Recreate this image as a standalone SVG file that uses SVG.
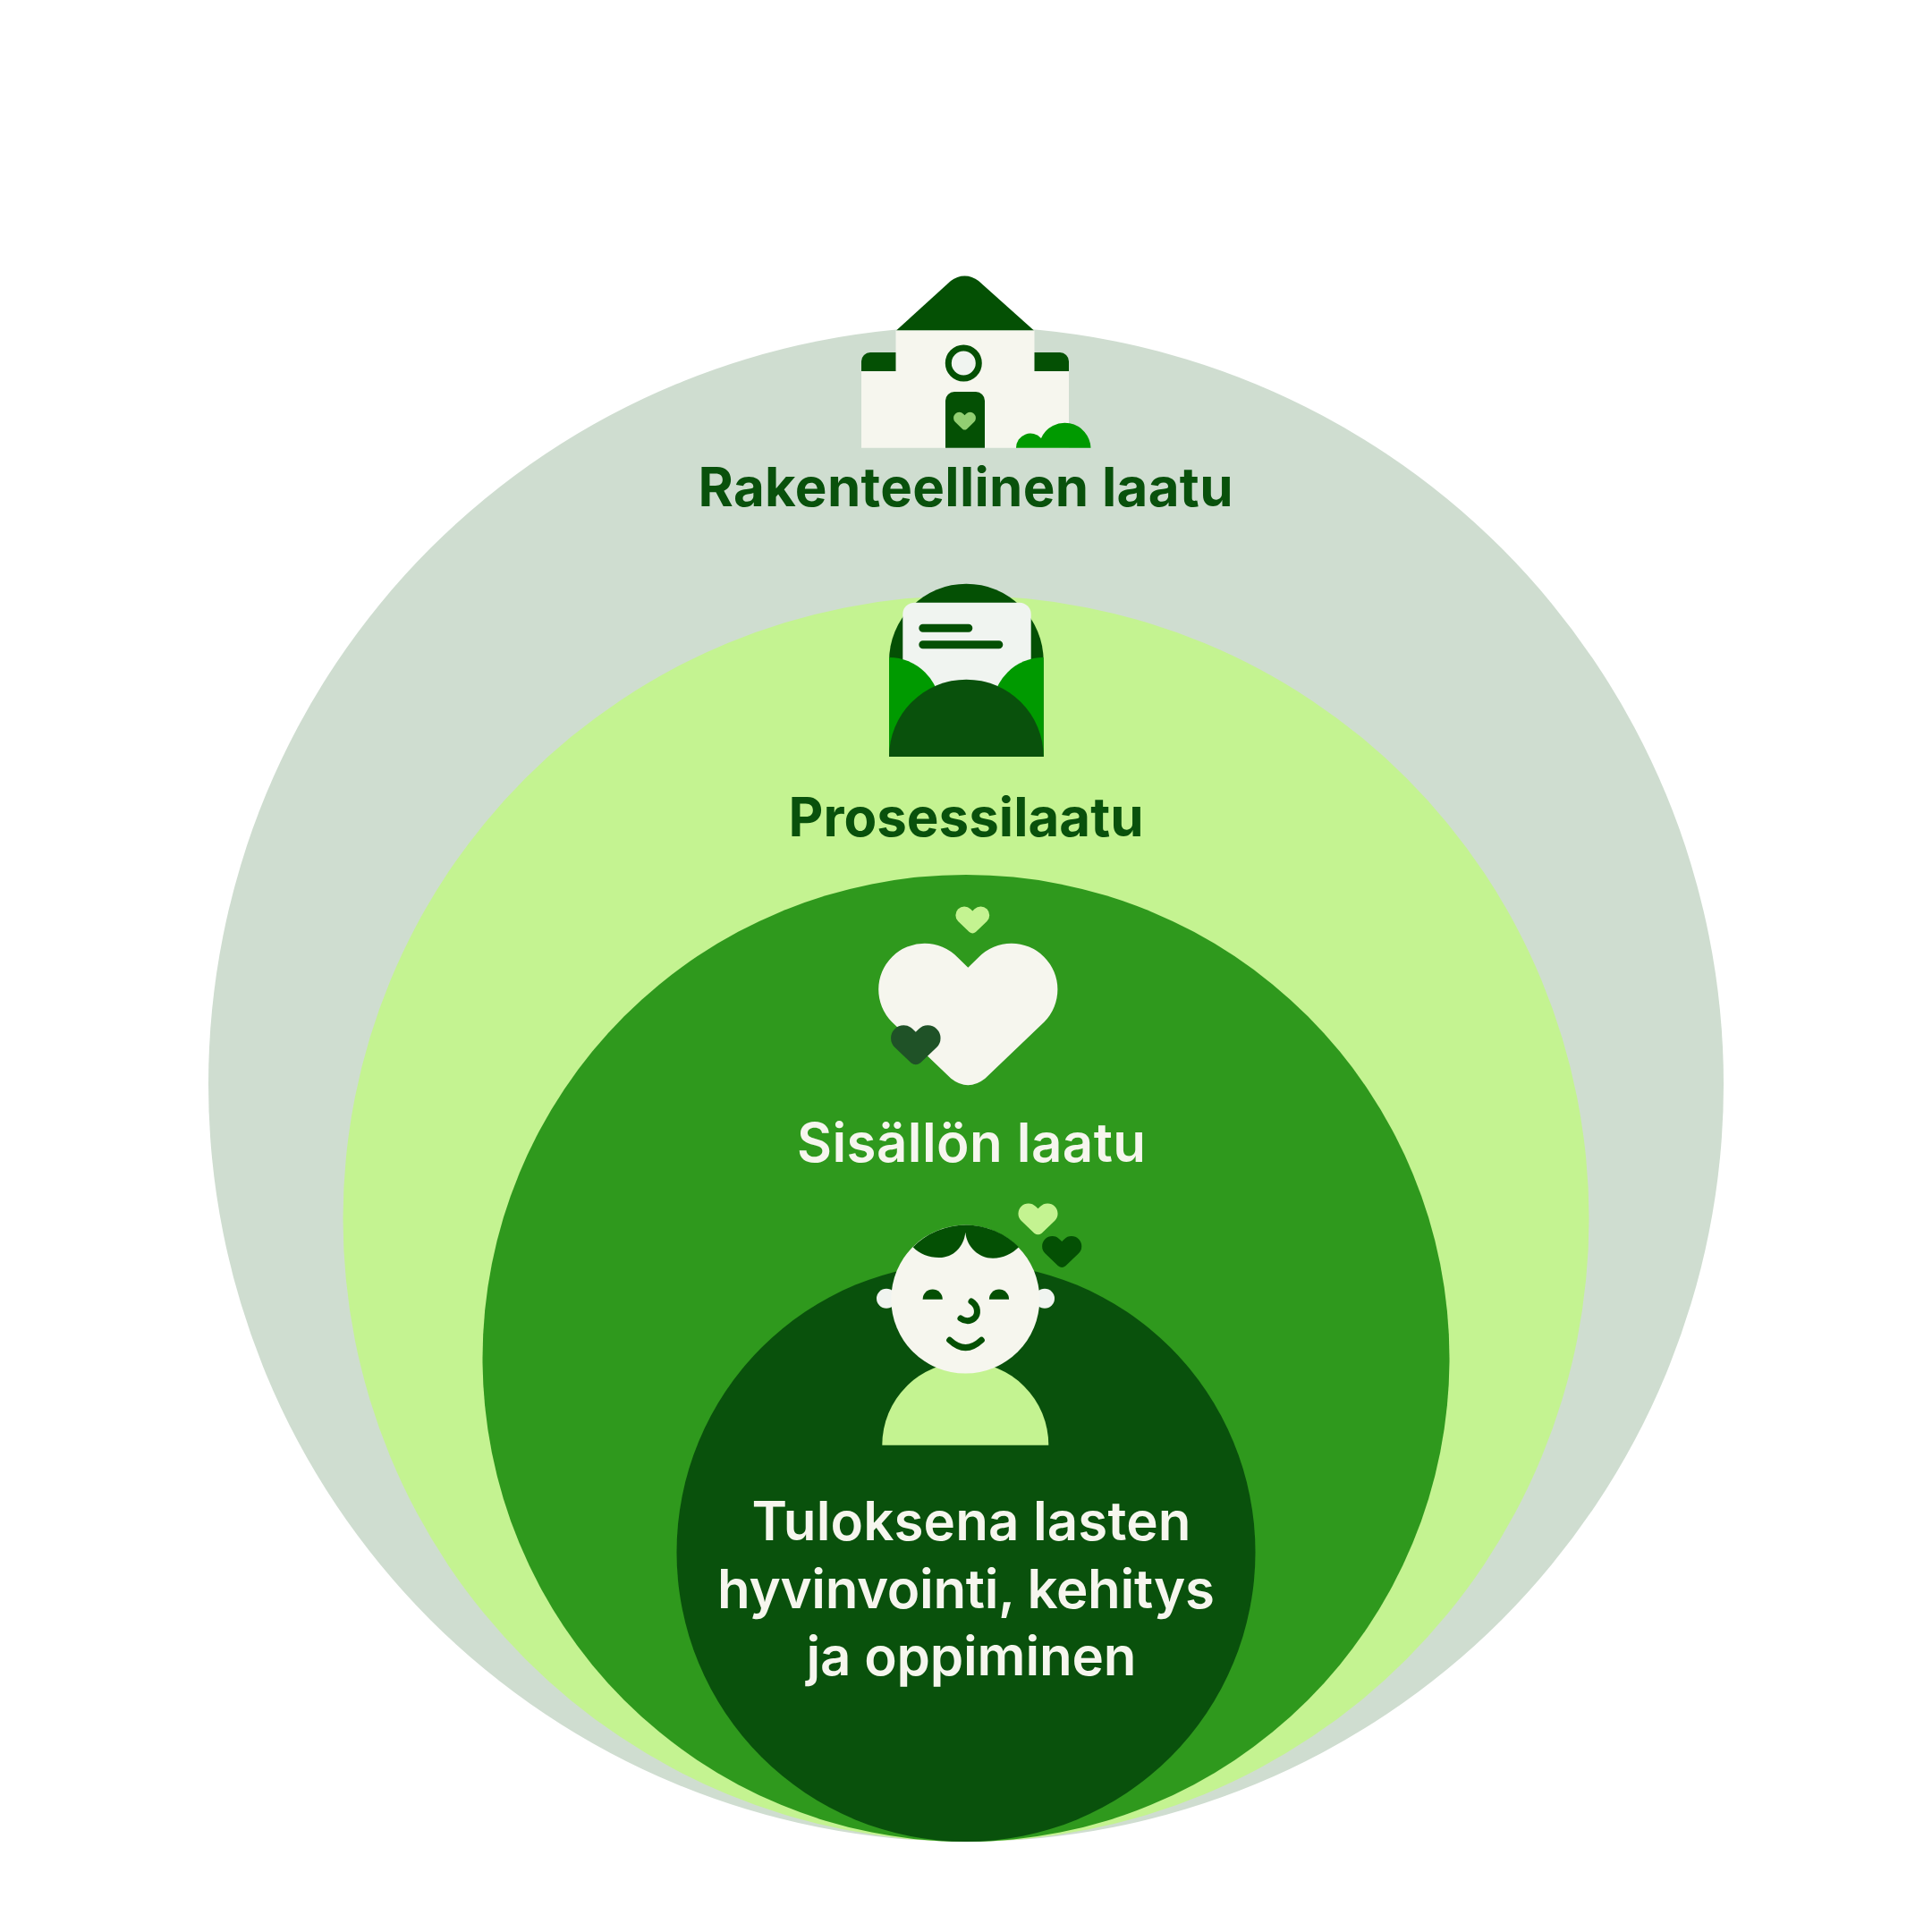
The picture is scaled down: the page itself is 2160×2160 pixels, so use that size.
<svg xmlns="http://www.w3.org/2000/svg" width="2160" height="2160" viewBox="0 0 2160 2160">
<style>
.t{font-family:"Inter","Liberation Sans",sans-serif;font-size:60px;text-anchor:middle}
.h{font-weight:650;fill:#09510C}
.w{font-weight:600;fill:#F6F6EE}
.d{fill:#045004}
.c{fill:#F6F6EE}
.g{fill:#F0F4F0}
.b{fill:#009A00}
.l{fill:#C4F391}
.s{fill:none;stroke:#045004;stroke-width:7;stroke-linecap:round}
</style>
<defs>
<path id="heart" d="M0 12.8L-6 7A25.3 25.3 0 0 0-42.4 43L-9.5 74.5Q0 82 9.5 74.5L42.4 43A25.3 25.3 0 0 0 6 7Z"/>
</defs>
<rect width="2160" height="2160" fill="#FFFFFF"/>
<g id="ring-rakenteellinen"><circle cx="1080" cy="1212" r="847" fill="#CFDDD0"/></g>
<g id="ring-prosessi"><circle cx="1080" cy="1362.5" r="696.5" fill="#C4F391"/></g>
<g id="ring-sisalto"><circle cx="1080" cy="1518.5" r="540.5" fill="#2F991D"/></g>
<g id="ring-tulos"><circle cx="1080" cy="1735.5" r="323.5" fill="#09510C"/></g>
<g id="connectors"/>
<g id="house">
<path class="d" d="M1002 369.5L1063 314C1072 306.5 1085 306.5 1094 314L1156 369.5Z"/>
<path class="d" d="M963 415V404A10 10 0 0 1 973 394H1185A10 10 0 0 1 1195 404V415Z"/>
<path class="c" d="M1001.5 369.5H1156.5V415H1195V500.7H963V415H1001.5Z"/>
<circle cx="1077.3" cy="406" r="17" fill="#F0F4F0" stroke="#045004" stroke-width="7"/>
<path class="d" d="M1057 500.7V448A10 10 0 0 1 1067 438H1091A10 10 0 0 1 1101 448V500.7Z"/>
<use href="#heart" transform="translate(1078.5 461) scale(.25)" fill="#92CF72"/>
<path class="b" d="M1136 500.7A16 16 0 0 1 1164 490A29 29 0 0 1 1219.5 500.7Z"/>
</g>
<text class="t h" x="1079.5" y="566" textLength="598">Rakenteellinen laatu</text>
<g id="envelope">
<path class="d" d="M994 846V739A86.3 86.3 0 0 1 1166.7 739V846Z"/>
<rect class="g" x="1009.3" y="673.7" width="143.4" height="130" rx="13"/>
<path class="s" style="stroke-width:9" d="M1031.8 702.3H1082.8M1031.8 720.7H1116.8"/>
<path class="b" d="M994 735A57 57 0 0 1 1051 792V846H994Z"/>
<path class="b" d="M1166.7 735A57 57 0 0 0 1109.7 792V846H1166.7Z"/>
<path fill="#09510C" d="M994 846A86.3 86.3 0 0 1 1166.7 846Z"/>
</g>
<text class="t h" x="1080" y="935" textLength="397">Prosessilaatu</text>
<g id="hearts">
<use href="#heart" transform="translate(1087.3 1013.7) scale(.38)" class="l"/>
<use href="#heart" transform="translate(1082.3 1056) scale(2.01)" class="c"/>
<use href="#heart" transform="translate(1023.8 1146.7) scale(.557)" fill="#1F5227"/>
</g>
<text class="t w" x="1086" y="1299" textLength="390">Sisällön laatu</text>
<g id="child">
<use href="#heart" transform="translate(1160.5 1345.7) scale(.443)" class="l"/>
<use href="#heart" transform="translate(1187.2 1382.3) scale(.443)" class="d"/>
<path class="l" d="M986.3 1615.7A93 93 0 0 1 1172.3 1615.7Z"/>
<circle class="g" cx="991" cy="1451.7" r="11"/>
<circle class="g" cx="1168" cy="1451.7" r="11"/>
<circle class="c" cx="1079.3" cy="1452.6" r="83"/>
<path class="d" d="M1020.7 1394.3A83 83 0 0 1 1139 1394.3C1131 1402 1122 1406.7 1110 1406.7C1094 1406.7 1081 1394 1079.3 1377.7C1077.6 1394 1066 1406 1050 1406C1038 1406 1028 1402 1020.7 1394.3Z"/>
<path class="d" d="M1031.6 1452.7A11.1 11.1 0 0 1 1053.8 1452.7Z"/>
<path class="d" d="M1105.9 1452.7A11.1 11.1 0 0 1 1128.1 1452.7Z"/>
<path class="s" d="M1086 1455C1094 1460 1094 1470 1089 1474C1084 1478 1078 1477 1074 1474"/>
<path class="s" d="M1061.7 1498.3Q1079.5 1515 1097.3 1498.3"/>
</g>
<text class="t w" x="1086" y="1722" textLength="491">Tuloksena lasten</text>
<text class="t w" x="1080" y="1797.5" textLength="556">hyvinvointi, kehitys</text>
<text class="t w" x="1086" y="1873" textLength="369">ja oppiminen</text>
</svg>
